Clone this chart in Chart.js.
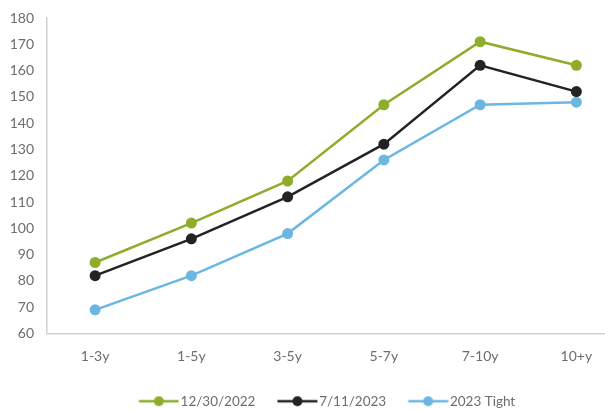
<!DOCTYPE html>
<html>
<head>
<meta charset="utf-8">
<script src="https://cdn.jsdelivr.net/npm/chart.js@4"></script>
<style>
  html, body { margin: 0; padding: 0; background: #fff; overflow: hidden; }
  #wrap { width: 605px; height: 410px; overflow: hidden; }
</style>
</head>
<body>
<div id="wrap"><canvas id="spreadChart" width="630" height="410"></canvas></div>
<script>
var tenors = ['1-3y', '1-5y', '3-5y', '5-7y', '7-10y', '10+y'];
var dec2022 = [87, 102, 118, 147, 171, 162];
var jul2023 = [82, 96, 112, 132, 162, 152];
var tight2023 = [69, 82, 98, 126, 147, 148];

var green = '#8fad2b';
var black = '#232323';
var blue = '#6cb6e2';
var textGray = '#6d6d6d';
var axisGray = '#d0d0d0';

// legend marker: short line with a dot, pushed right so it sits close to the text
function marker(color) {
    var c = document.createElement('canvas');
    c.width = 62;
    c.height = 12;
    var g = c.getContext('2d');
    g.strokeStyle = color;
    g.lineWidth = 2.5;
    g.beginPath();
    g.moveTo(21.5, 6);
    g.lineTo(61.5, 6);
    g.stroke();
    g.fillStyle = color;
    g.beginPath();
    g.arc(41.5, 6, 5, 0, Math.PI * 2);
    g.fill();
    return c;
}

function series(label, data, color) {
    return {
        label: label,
        data: data,
        borderColor: color,
        backgroundColor: color,
        borderWidth: 2.5,
        pointRadius: 5.5,
        pointHoverRadius: 5.5,
        pointBorderWidth: 0,
        legendMarker: marker(color),
        tension: 0
    };
}

var ctx = document.getElementById('spreadChart').getContext('2d');

var chart = new Chart(ctx, {
    type: 'line',
    data: {
        labels: tenors,
        datasets: [
            series('12/30/2022', dec2022, green),
            series('7/11/2023', jul2023, black),
            series('2023 Tight', tight2023, blue)
        ]
    },
    options: {
        responsive: false,
        animation: false,
        layout: { padding: { top: 18, left: 8, right: 0, bottom: -8 } },
        plugins: {
            tooltip: { enabled: false },
            legend: {
                position: 'bottom',
                labels: {
                    usePointStyle: true,
                    pointStyleWidth: 51,
                    padding: 6,
                    color: textGray,
                    font: { family: 'Lato', size: 13.5 },
                    generateLabels: function (chart) {
                        return chart.data.datasets.map(function (ds, i) {
                            return {
                                text: ds.label,
                                fontColor: textGray,
                                pointStyle: ds.legendMarker,
                                datasetIndex: i,
                                lineWidth: 0,
                                hidden: false
                            };
                        });
                    }
                }
            }
        },
        scales: {
            x: {
                offset: true,
                afterFit: function (scale) { scale.height = 55; },
                grid: { display: false, drawTicks: false },
                border: { color: axisGray, width: 1.5 },
                ticks: {
                    color: textGray,
                    padding: 15,
                    font: { family: 'Lato', size: 14 }
                }
            },
            y: {
                min: 60,
                max: 180,
                afterFit: function (scale) {
                    scale.width = 39;
                    scale.paddingTop = 0;
                    scale.paddingBottom = 0;
                },
                grid: { display: false, drawTicks: false },
                border: { color: axisGray, width: 1.5 },
                ticks: {
                    stepSize: 10,
                    color: textGray,
                    padding: 13,
                    font: { family: 'Lato', size: 14 }
                }
            }
        }
    }
});
</script>
</body>
</html>
